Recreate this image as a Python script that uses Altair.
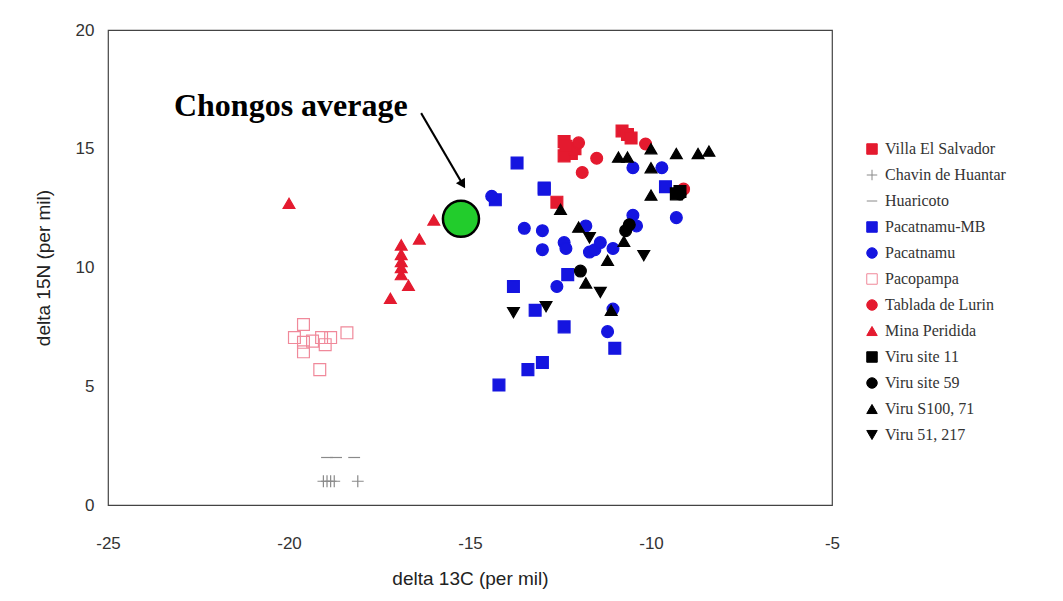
import altair as alt
import pandas as pd

sites = ["Villa El Salvador", "Chavin de Huantar", "Huaricoto", "Pacatnamu-MB",
         "Pacatnamu", "Pacopampa", "Tablada de Lurin", "Mina Peridida",
         "Viru site 11", "Viru site 59", "Viru S100, 71", "Viru 51, 217"]

villa_x = [-12.4, -12.3, -12.2, -12.4, -12.1, -12.35, -10.8, -10.65, -10.55, -12.6]
villa_y = [15.3, 15.0, 14.8, 14.7, 15.0, 15.1, 15.75, 15.6, 15.45, 12.75]

chavin_x = [-19.05, -18.95, -18.85, -18.75, -18.1]
chavin_y = [1.0, 1.0, 1.0, 1.0, 1.0]

huaricoto_x = [-18.95, -18.7, -18.2]
huaricoto_y = [2.0, 2.0, 2.0]

pmb_x = [-13.7, -12.95, -14.3, -12.3, -13.8, -13.2, -12.4, -11.0, -13.4, -13.0, -14.2, -9.6, -12.95]
pmb_y = [14.4, 13.35, 12.85, 9.7, 9.2, 8.2, 7.5, 6.6, 5.7, 6.0, 5.05, 13.4, 13.3]

pac_x = [-14.4, -13.5, -13.0, -13.0, -12.4, -12.35, -11.8, -11.7, -11.55, -11.4,
         -11.05, -10.5, -10.4, -9.3, -12.6, -11.2, -11.05, -10.5, -9.7]
pac_y = [13.0, 11.65, 11.55, 10.75, 11.05, 10.8, 11.75, 10.65, 10.75, 11.05,
         10.8, 12.2, 11.75, 12.1, 9.2, 7.3, 8.25, 14.2, 14.2]

paco_x = [-19.6, -19.85, -19.6, -19.6, -19.1, -19.0, -18.85, -18.4, -19.15, -19.35]
paco_y = [7.6, 7.05, 6.85, 6.45, 7.05, 6.75, 7.05, 7.25, 5.7, 6.9]

tablada_x = [-12.0, -11.5, -11.9, -10.15, -9.1]
tablada_y = [15.25, 14.6, 14.0, 15.2, 13.3]

mina_x = [-20.0, -16.0, -16.4, -16.9, -16.9, -16.9, -16.9, -16.9, -16.7, -17.2]
mina_y = [12.7, 12.0, 11.2, 10.95, 10.55, 10.25, 10.0, 9.7, 9.25, 8.7]

v11_x = [-9.3, -9.2]
v11_y = [13.1, 13.2]

v59_x = [-11.95, -10.7, -10.6, -9.2]
v59_y = [9.85, 11.55, 11.8, 13.1]

vs100_x = [-10.9, -10.65, -10.0, -9.3, -8.7, -8.4, -10.0, -10.0, -12.5, -12.0,
           -11.2, -11.8, -11.1, -10.75]
vs100_y = [14.65, 14.65, 15.0, 14.8, 14.8, 14.9, 14.2, 13.05, 12.45, 11.7,
           10.3, 9.35, 8.2, 11.1]

v51_x = [-11.7, -10.2, -11.4, -13.8, -12.9]
v51_y = [11.25, 10.5, 8.95, 8.1, 8.35]

chongos_x = [-15.25]
chongos_y = [12.05]

label_text = ["Chongos average"]
label_x = [-19.95]
label_y = [16.8]

arrow_x = [-16.35]
arrow_y = [16.5]
arrow_x2 = [-15.2]
arrow_y2 = [13.5]

x_ticks = [-25, -20, -15, -10, -5]
y_ticks = [0, 5, 10, 15, 20]

groups = [
    (villa_x, villa_y), (chavin_x, chavin_y), (huaricoto_x, huaricoto_y),
    (pmb_x, pmb_y), (pac_x, pac_y), (paco_x, paco_y), (tablada_x, tablada_y),
    (mina_x, mina_y), (v11_x, v11_y), (v59_x, v59_y), (vs100_x, vs100_y),
    (v51_x, v51_y),
]
rows = []
for name, (xs, ys) in zip(sites, groups):
    for xv, yv in zip(xs, ys):
        rows.append({"site": name, "d13C": xv, "d15N": yv})
df = pd.DataFrame(rows)

RED = "#e41a2f"
BLUE = "#1515e0"
PINK = "#f0899a"
GRAY = "#8a8a8a"
BLACK = "#000000"

plus_path = "M-1,0H1M0,-1V1"
dash_path = "M-1,0H1"

shape_range = ["square", plus_path, dash_path, "square", "circle", "square",
               "circle", "triangle-up", "square", "circle", "triangle-up", "triangle-down"]
fill_range = [RED, "transparent", "transparent", BLUE, BLUE, "transparent",
              RED, RED, BLACK, BLACK, BLACK, BLACK]
stroke_range = [RED, GRAY, GRAY, BLUE, BLUE, PINK, RED, RED, BLACK, BLACK, BLACK, BLACK]

xscale = alt.Scale(domain=[-25, -5], nice=False, zero=False)
yscale = alt.Scale(domain=[0, 20], nice=False, zero=False)

legend = alt.Legend(title=None, orient="none", legendX=756, legendY=111,
                    labelFont="Liberation Serif", labelFontSize=16, labelColor="#333333",
                    symbolSize=110, symbolStrokeWidth=1, rowPadding=10, labelOffset=5,
                    padding=0)

points = alt.Chart(df).mark_point(opacity=1, strokeWidth=1.2, size=140).encode(
    x=alt.X("d13C:Q", scale=xscale,
            axis=alt.Axis(values=x_ticks, title="delta 13C (per mil)", grid=False,
                          domain=False, ticks=False, labelPadding=30, titlePadding=18,
                          labelFlush=False, labelExpr="datum.value + ''")),
    y=alt.Y("d15N:Q", scale=yscale,
            axis=alt.Axis(values=y_ticks, title="delta 15N (per mil)", grid=False,
                          domain=False, ticks=False, labelPadding=14, titlePadding=22,
                          labelFlush=False, labelExpr="datum.value + ''")),
    shape=alt.Shape("site:N", scale=alt.Scale(domain=sites, range=shape_range), legend=legend),
    fill=alt.Fill("site:N", scale=alt.Scale(domain=sites, range=fill_range), legend=legend),
    stroke=alt.Stroke("site:N", scale=alt.Scale(domain=sites, range=stroke_range), legend=legend),
)

chongos_df = pd.DataFrame({"x": chongos_x, "y": chongos_y})
chongos = alt.Chart(chongos_df).mark_point(
    shape="circle", filled=True, fill="#22cc2c", stroke="black", strokeWidth=2.5,
    size=1300, opacity=1).encode(
    x=alt.X("x:Q", scale=xscale), y=alt.Y("y:Q", scale=yscale))

label_df = pd.DataFrame({"t": label_text, "x": label_x, "y": label_y})
label = alt.Chart(label_df).mark_text(
    font="Liberation Serif", fontWeight="bold", fontSize=32, color="black").encode(
    x=alt.X("x:Q", scale=xscale), y=alt.Y("y:Q", scale=yscale), text="t:N")

arrow_df = pd.DataFrame({"x": arrow_x, "y": arrow_y, "x2": arrow_x2, "y2": arrow_y2})
arrow_line = alt.Chart(arrow_df).mark_rule(color="black", strokeWidth=2).encode(
    x=alt.X("x:Q", scale=xscale), y=alt.Y("y:Q", scale=yscale), x2="x2:Q", y2="y2:Q")
arrow_head = alt.Chart(arrow_df).mark_point(
    shape="triangle-down", filled=True, color="black", size=110, opacity=1, angle=329).encode(
    x=alt.X("x2:Q", scale=xscale), y=alt.Y("y2:Q", scale=yscale))

chart = alt.layer(points, arrow_line, arrow_head, chongos, label).properties(
    width=724, height=475,
    autosize=alt.AutoSizeParams(type="none"),
    padding={"left": 100, "top": 22, "right": 223, "bottom": 88},
    background="white",
).configure_view(stroke="#444444", strokeWidth=1.2).configure_axis(
    labelFont="Liberation Sans", labelFontSize=17, labelColor="#333333",
    titleFont="Liberation Sans", titleFontSize=19, titleFontWeight="normal",
    titleColor="#222222",
)

chart.save("out.html", embed_options={"renderer": "svg", "actions": False})
